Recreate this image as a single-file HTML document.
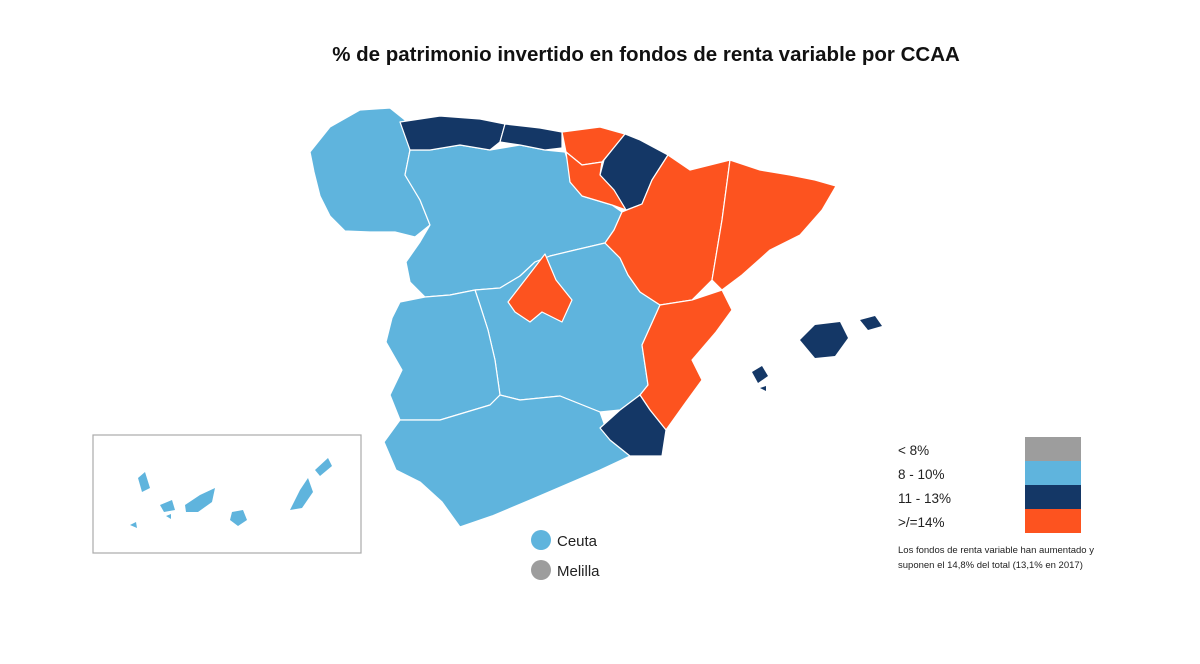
<!DOCTYPE html>
<html><head><meta charset="utf-8"><style>
body{margin:0;background:#fff;width:1200px;height:664px;overflow:hidden;font-family:"Liberation Sans",sans-serif}
svg{display:block}
</style></head><body>
<svg id="map" width="1200" height="664" viewBox="0 0 1200 664">
<text x="646" y="61" text-anchor="middle" font-size="20.5" font-weight="bold" fill="#111">% de patrimonio invertido en fondos de renta variable por CCAA</text>
<rect x="93" y="435" width="268" height="118" fill="#fff" stroke="#aaa" stroke-width="1.2"/>
<g id="regions" stroke="#fff" stroke-width="1.2" stroke-linejoin="round"></g>
<g id="labels"></g>
<g id="legend"></g>
<text x="898" y="553" font-size="9.5" fill="#222">Los fondos de renta variable han aumentado y</text>
<text x="898" y="568" font-size="9.5" fill="#222">suponen el 14,8% del total (13,1% en 2017)</text>
</svg>
<script>
const categories=["< 8%","8 - 10%","11 - 13%",">/=14%"];
const catColors=["#9d9d9d","#5fb4dd","#143766","#fd531f"];
const regionNames=["Galicia","Castilla y León","Castilla-La Mancha","Extremadura","Andalucía","Asturias","Cantabria","País Vasco","Navarra","La Rioja","Aragón","Cataluña","Comunidad Valenciana","Murcia","Madrid","Baleares","Canarias","Ceuta","Melilla"];
const regionCat=[1,1,1,1,1,2,2,3,2,3,3,3,3,2,3,2,1,1,0];
const shapes={
"Galicia":["M310,152 L330,127 L360,110 L390,108 L405,120 L410,150 L405,175 L420,200 L430,225 L415,237 L395,232 L370,232 L345,231 L330,216 L320,196 L314,172 Z"],
"Castilla y León":["M410,150 L430,150 L460,145 L490,150 L520,145 L545,150 L565,152 L570,168 L570,182 L582,196 L612,205 L622,212 L614,230 L605,243 L575,250 L550,256 L535,262 L520,276 L500,288 L475,290 L450,295 L425,297 L410,282 L406,262 L420,242 L430,225 L420,200 L405,175 Z"],
"Castilla-La Mancha":["M475,290 L500,288 L520,276 L535,262 L550,256 L575,250 L605,243 L620,258 L628,275 L640,292 L660,305 L642,345 L648,385 L640,395 L620,410 L600,412 L560,396 L520,400 L500,395 L495,360 L488,330 L480,305 Z"],
"Extremadura":["M425,297 L450,295 L475,290 L480,305 L488,330 L495,360 L500,395 L490,405 L440,420 L400,420 L390,395 L402,370 L386,342 L392,318 L400,302 Z"],
"Andalucía":["M400,420 L440,420 L490,405 L500,395 L520,400 L560,396 L600,412 L610,440 L630,456 L600,470 L572,482 L530,500 L492,516 L460,527 L442,502 L420,482 L396,470 L384,442 Z"],
"Asturias":["M400,122 L440,116 L480,119 L505,124 L500,142 L490,150 L460,145 L430,150 L410,150 Z"],
"Cantabria":["M505,124 L540,128 L562,132 L562,148 L545,150 L520,145 L500,142 Z"],
"País Vasco":["M562,132 L600,127 L625,134 L612,150 L602,162 L582,165 L566,152 Z"],
"Navarra":["M625,134 L640,140 L668,155 L652,180 L642,204 L626,210 L614,190 L600,175 L604,160 L612,150 Z"],
"La Rioja":["M566,152 L582,165 L602,162 L600,175 L614,190 L626,210 L612,205 L582,196 L570,182 Z"],
"Aragón":["M668,155 L690,170 L730,160 L722,220 L712,280 L692,300 L660,305 L640,292 L628,275 L620,258 L605,243 L614,230 L622,212 L642,204 L652,180 Z"],
"Cataluña":["M730,160 L760,170 L790,175 L815,180 L836,186 L822,210 L800,235 L770,250 L742,275 L722,290 L712,280 L722,220 Z"],
"Comunidad Valenciana":["M692,300 L722,290 L732,310 L716,332 L692,360 L702,380 L686,402 L666,430 L650,410 L640,395 L648,385 L642,345 L660,305 Z"],
"Murcia":["M640,395 L650,410 L666,430 L662,456 L630,456 L610,440 L600,428 L620,410 Z"],
"Madrid":["M508,302 L525,280 L545,254 L556,280 L572,300 L562,322 L542,312 L530,322 L515,312 Z"],
"Baleares":["M800,340 L815,325 L840,322 L848,338 L835,356 L815,358 Z","M860,320 L875,316 L882,326 L868,330 Z","M752,372 L762,366 L768,376 L758,383 Z","M760,388 L766,386 L766,391 Z"],
"Canarias":["M138,478 L145,472 L150,488 L142,492 Z","M160,505 L172,500 L175,510 L164,512 Z","M185,505 L200,495 L215,488 L212,502 L198,512 L186,512 Z","M232,512 L243,510 L247,520 L238,526 L230,520 Z","M290,510 L300,490 L308,478 L313,492 L302,508 Z","M315,470 L328,458 L332,466 L320,476 Z","M130,525 L136,522 L137,528 Z","M166,516 L171,514 L171,519 Z"]
};
const NS="http://www.w3.org/2000/svg";
const g=document.getElementById('regions');
const lbl=document.getElementById('labels');
regionNames.forEach((n,i)=>{
  const col=catColors[regionCat[i]];
  if(shapes[n]){
    shapes[n].forEach(d=>{
      const p=document.createElementNS(NS,'path');
      p.setAttribute('d',d);p.setAttribute('fill',col);
      if(n==="Canarias"||n==="Baleares")p.setAttribute('stroke','none');
      
      
      g.appendChild(p);
    });
  }
});
[["Ceuta",546],["Melilla",576]].forEach(([n,y])=>{
  const i=regionNames.indexOf(n);
  const c=document.createElementNS(NS,'circle');
  c.setAttribute('cx',541);c.setAttribute('cy',y-6);c.setAttribute('r',10);c.setAttribute('fill',catColors[regionCat[i]]);
  
  
  lbl.appendChild(c);
  const t=document.createElementNS(NS,'text');
  t.setAttribute('x',557);t.setAttribute('y',y);t.setAttribute('font-size','15');t.setAttribute('fill','#222');t.textContent=n;
  
  
  lbl.appendChild(t);
});
const lg=document.getElementById('legend');
categories.forEach((c,i)=>{
  const r=document.createElementNS(NS,'rect');
  r.setAttribute('x',1025);r.setAttribute('y',437+i*24);r.setAttribute('width',56);r.setAttribute('height',24);r.setAttribute('fill',catColors[i]);
  
  
  lg.appendChild(r);
  const t=document.createElementNS(NS,'text');
  t.setAttribute('x',898);t.setAttribute('y',455+i*24);t.setAttribute('font-size','13.5');t.setAttribute('fill','#222');t.textContent=c;
  
  
  lg.appendChild(t);
});
</script>
</body></html>
